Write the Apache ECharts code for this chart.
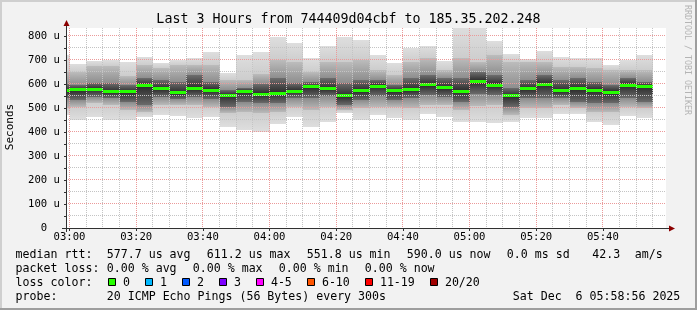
<!DOCTYPE html>
<html><head><meta charset="utf-8">
<script src="https://cdn.jsdelivr.net/npm/echarts@6/dist/echarts.min.js"></script>
<style>html,body{margin:0;padding:0;background:#f2f2f2;}#c{width:697px;height:310px;}</style>
</head><body><div id="c"></div>
<script>
// ---- data ----
const barEnd = ['03:00','03:05','03:10','03:15','03:20','03:25','03:30','03:35','03:40','03:45','03:50','03:55',
  '04:00','04:05','04:10','04:15','04:20','04:25','04:30','04:35','04:40','04:45','04:50','04:55',
  '05:00','05:05','05:10','05:15','05:20','05:25','05:30','05:35','05:40','05:45','05:50','05:55'];
const median = [571,575,579,568,568,593,580,564,580,574,553,569,558,561,569,588,580,552,572,590,571,575,596,585,569,611,594,552,580,599,572,580,574,565,594,590];
const maxV   = [721,683,697,700,693,711,686,700,707,732,645,721,735,795,772,710,758,797,783,721,689,749,758,697,840,840,779,725,703,737,711,707,707,679,700,721];
const hi90   = [650,651,675,675,632,679,665,679,679,679,617,617,640,700,693,651,693,693,700,658,638,693,707,658,707,693,720,693,693,693,672,672,665,658,658,658];
const hi75   = [600,596,603,603,596,625,617,610,638,610,575,582,600,624,603,610,624,603,617,617,596,624,638,624,624,650,638,582,617,638,617,624,610,596,624,610];
const lo25   = [540,533,547,540,526,513,547,536,547,536,506,526,520,520,540,540,550,513,533,550,533,540,554,547,526,560,554,506,540,540,540,526,520,520,540,526];
const lo10   = [500,506,520,513,492,485,513,513,513,506,478,485,480,485,506,492,506,492,499,506,506,499,513,513,492,510,513,471,499,499,513,499,485,485,506,499];
const minV   = [471,450,464,450,450,464,471,468,460,464,422,408,400,433,464,422,443,478,450,471,460,450,474,464,443,443,436,443,457,460,474,474,440,429,468,457];
const xTickLabels = ['03:00','03:20','03:40','04:00','04:20','04:40','05:00','05:20','05:40'];
const yTickLabels = [0,100,200,300,400,500,600,700,800];
const xStart = '02:58:56', xEnd = '05:58:56';
const stepMin = 5;
const yMax = 833.33;

const lossLabels = ['0','1','2','3','4-5','6-10','11-19','20/20'];
const lossColors = ['#26ff00','#00b8ff','#0059ff','#7e00ff','#ff00ff','#ff5500','#ff0000','#a10000'];

// ---- helpers ----
const toMin = s => { const p = s.split(':').map(Number); return p[0]*60 + p[1] + (p[2]||0)/60; };
const pad = n => (n < 10 ? '0' : '') + n;
const fmtMin = m => pad(Math.floor(m/60)) + ':' + pad(Math.round(m % 60));
const MONO = 'DejaVu Sans Mono';

const smokeData = barEnd.map((t,i)=>[toMin(t), minV[i], lo10[i], lo25[i], median[i], hi75[i], hi90[i], maxV[i]]);
const xGrid = [];
for (let m = toMin(xTickLabels[0]); m <= toMin(barEnd[barEnd.length-1]) + 0.001; m += stepMin) xGrid.push([m, (Math.round(m) % 20 === 0) ? 1 : 0]);
const yGrid = [];
for (let v = 50; v <= 800; v += 50) yGrid.push([v, v % 100 === 0 ? 1 : 0]);

const grad = (top, bottom) => ({type:'linear', x:0, y:0, x2:0, y2:1, colorStops:[{offset:0,color:top},{offset:1,color:bottom}]});

const chart = echarts.init(document.getElementById('c'), null, {renderer:'canvas'});

const texts = [];
function T(txt, x, y, opt) {
  texts.push({type:'text', x:x, y:y, style:Object.assign({text:txt, font:'11.6px "'+MONO+'"', fill:'#000', textVerticalAlign:'middle', textAlign:'left'}, opt||{})});
}
// legend rows
T('median rtt:', 15.6, 254.5);
T('577.7 us avg', 106.8, 254.5); T('611.2 us max', 206.8, 254.5); T('551.8 us min', 306.8, 254.5);
T('590.0 us now', 406.8, 254.5); T('0.0 ms sd', 506.8, 254.5); T('42.3', 592.2, 254.5); T('am/s', 634.8, 254.5);
T('packet loss:', 15.6, 268.5);
T('0.00 % avg', 106.8, 268.5); T('0.00 % max', 192.8, 268.5); T('0.00 % min', 278.8, 268.5); T('0.00 % now', 364.8, 268.5);
T('loss color:', 15.6, 282.5);
const boxX = [108.5,145.5,182.5,219.5,256.5,307.5,365.5,430.5];
const boxes = [];
lossLabels.forEach((l,i)=>{
  boxes.push({type:'rect', shape:{x:boxX[i], y:278.5, width:7, height:7}, style:{fill:lossColors[i], stroke:'#000', lineWidth:1}});
  T(l, boxX[i]+14.4, 282.5);
});
T('probe:', 15.6, 296.5);
T('20 ICMP Echo Pings (56 Bytes) every 300s', 106.8, 296.5);
T('Sat Dec  6 05:58:56 2025', 512.8, 296.5);
// title
T('Last 3 Hours from 744409d04cbf to 185.35.202.248', 348.5, 19.5, {font:'13.3px "'+MONO+'"', textAlign:'center'});

// axis extensions and arrows (decoration)
const AX = '#303030', ARROW = '#8b0000';
const axisDeco = [
  {type:'line', z:10, shape:{x1:66.5, y1:232, x2:66.5, y2:24}, style:{stroke:AX, lineWidth:1}},
  {type:'line', z:10, shape:{x1:62, y1:228.5, x2:670, y2:228.5}, style:{stroke:AX, lineWidth:1}},
  {type:'polygon', z:11, shape:{points:[[66.5,20],[63.5,26],[69.5,26]]}, style:{fill:ARROW}},
  {type:'polygon', z:11, shape:{points:[[675,228.5],[669,225.5],[669,231.5]]}, style:{fill:ARROW}}
];

const option = {
  animation:false,
  backgroundColor:'#f2f2f2',
  grid:{left:66, top:28, width:600, height:200, show:true, backgroundColor:'#ffffff', borderWidth:0},
  xAxis:{type:'value', min:toMin(xStart), max:toMin(xEnd),
    axisLine:{show:false},
    axisTick:{show:true, customValues:xTickLabels.map(toMin), length:3, lineStyle:{color:AX}},
    axisLabel:{customValues:xTickLabels.map(toMin), formatter:v=>fmtMin(v), fontFamily:MONO, fontSize:10.6, color:'#000', margin:4},
    splitLine:{show:false}},
  yAxis:{type:'value', min:0, max:yMax,
    axisLine:{show:false},
    axisTick:{show:true, customValues:yGrid.map(d=>d[0]).concat([0]), length:2, lineStyle:{color:AX}},
    axisLabel:{customValues:yTickLabels, formatter:v=> v===0 ? '0  ' : (v + ' u'), fontFamily:MONO, fontSize:10.6, color:'#000', margin:6},
    splitLine:{show:false}},
  series:[
    {type:'custom', clip:true, z:2, data:smokeData, encode:{x:0, y:[1,7]},
     renderItem:function(params, api){
       const t = api.value(0);
       const x0 = Math.round(api.coord([t-stepMin, 0])[0]);
       const x1 = Math.round(api.coord([t, 0])[0]);
       const Y = k => Math.round(api.coord([t, api.value(k)])[1]);
       const y = [null, Y(1), Y(2), Y(3), Y(4), Y(5), Y(6), Y(7)];
       const band = (a, b, fill) => ({type:'rect', shape:{x:x0, y:y[b], width:x1-x0, height:y[a]-y[b]}, style:{fill:fill}});
       const ym = api.coord([t, api.value(4)])[1];
       return {type:'group', children:[
         band(1,2,grad('#cdcdcd','#dedede')),
         band(2,3,grad('#8a8a8a','#bababa')),
         band(3,4,grad('#2a2a2a','#6a6a6a')),
         band(4,5,grad('#6e6e6e','#2a2a2a')),
         band(5,6,grad('#bcbcbc','#8e8e8e')),
         band(6,7,grad('#dedede','#cdcdcd')),
         {type:'rect', shape:{x:x0, y:Math.round(ym-1.5), width:x1-x0, height:3}, style:{fill:lossColors[0]}}
       ]};
     }},
    {type:'custom', clip:true, z:3, data:xGrid, encode:{x:0},
     renderItem:function(params, api){
       const cs = params.coordSys;
       const x = Math.floor(api.coord([api.value(0), 0])[0]) + 0.5;
       const major = api.value(1) === 1;
       return {type:'line', shape:{x1:x, y1:cs.y, x2:x, y2:cs.y+cs.height}, style:{stroke: major ? '#eb9a9a' : '#c4c4c4', lineWidth:1, lineDash:[1,1]}};
     }},
    {type:'custom', clip:true, z:3, data:yGrid, encode:{y:0},
     renderItem:function(params, api){
       const cs = params.coordSys;
       const y = Math.floor(api.coord([toMin(xStart), api.value(0)])[1]) + 0.5;
       const major = api.value(1) === 1;
       return {type:'line', shape:{x1:cs.x, y1:y, x2:cs.x+cs.width, y2:y}, style:{stroke: major ? '#eb9a9a' : '#c4c4c4', lineWidth:1, lineDash:[1,1]}};
     }}
  ],
  graphic:[
    {type:'rect', shape:{x:0,y:0,width:697,height:2}, style:{fill:'#cfcfcf'}, silent:true},
    {type:'rect', shape:{x:0,y:0,width:2,height:310}, style:{fill:'#cfcfcf'}, silent:true},
    {type:'rect', shape:{x:0,y:308,width:697,height:2}, style:{fill:'#9e9e9e'}, silent:true},
    {type:'rect', shape:{x:695,y:0,width:2,height:310}, style:{fill:'#9e9e9e'}, silent:true},
    {type:'text', x:10, y:127, rotation:Math.PI/2, style:{text:'Seconds', font:'11px "'+MONO+'"', fill:'#000', textAlign:'center', textVerticalAlign:'middle'}},
    {type:'text', x:687, y:60, rotation:-Math.PI/2, style:{text:'RRDTOOL / TOBI OETIKER', font:'8.3px "'+MONO+'"', fill:'#b4b4b4', textAlign:'center', textVerticalAlign:'middle'}}
  ].concat(axisDeco, boxes, texts)
};
chart.setOption(option);
</script>
</body></html>
